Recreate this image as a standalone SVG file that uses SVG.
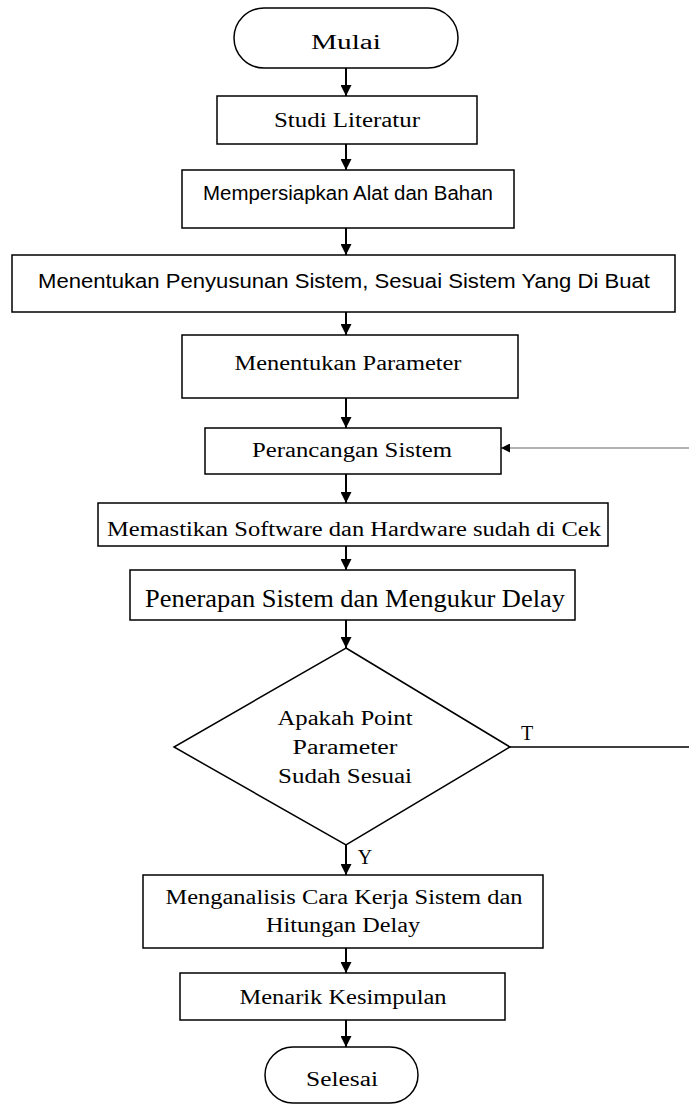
<svg xmlns="http://www.w3.org/2000/svg" width="689" height="1106" viewBox="0 0 689 1106">
<defs>
<style>
.box{fill:#fff;stroke:#000;stroke-width:1.5}
.ser{font-family:"Liberation Serif","Times New Roman",serif;font-size:20px;fill:#000;text-anchor:middle}
.san{font-family:"Liberation Sans",Arial,sans-serif;font-size:20px;fill:#000;text-anchor:middle}
.ln{stroke:#000;stroke-width:2;fill:none}
</style>
<marker id="ah" viewBox="0 0 10 10" refX="10" refY="5" markerWidth="5.5" markerHeight="5.5" orient="auto" markerUnits="strokeWidth">
<path d="M0,0 L10,5 L0,10 z" fill="#000"/>
</marker>
<marker id="ahg" viewBox="0 0 10 10" refX="10" refY="5" markerWidth="6" markerHeight="6" orient="auto" markerUnits="strokeWidth">
<path d="M0,0 L10,5 L0,10 z" fill="#000"/>
</marker>
</defs>
<rect width="689" height="1106" fill="#fff"/>
<g id="connectors">
<path class="ln" d="M346,68 V96" marker-end="url(#ah)"/>
<path class="ln" d="M346,144 V170" marker-end="url(#ah)"/>
<path class="ln" d="M346,228 V255" marker-end="url(#ah)"/>
<path class="ln" d="M346,312 V335" marker-end="url(#ah)"/>
<path class="ln" d="M346,398 V428" marker-end="url(#ah)"/>
<path class="ln" d="M346,474 V503" marker-end="url(#ah)"/>
<path class="ln" d="M346,546 V570" marker-end="url(#ah)"/>
<path class="ln" d="M346,620 V648" marker-end="url(#ah)"/>
<path class="ln" d="M346,845 V875" marker-end="url(#ah)"/>
<path class="ln" d="M346,948 V973" marker-end="url(#ah)"/>
<path class="ln" d="M346,1020 V1047" marker-end="url(#ah)"/>
<path d="M510,747 H689" stroke="#000" stroke-width="1.5" fill="none"/>
<path d="M689,448 H501" stroke="#999" stroke-width="1.5" fill="none" marker-end="url(#ahg)"/>
<text class="ser" x="527" y="740">T</text>
<text class="ser" x="365" y="864">Y</text>
</g>
<g id="mulai">
<rect class="box" x="234" y="8" width="224" height="60" rx="30" ry="30"/>
<text class="ser" x="346" y="49" textLength="70" lengthAdjust="spacingAndGlyphs">Mulai</text>
</g>
<g id="studi">
<rect class="box" x="217" y="96" width="260" height="48"/>
<text class="ser" x="347" y="127" textLength="146" lengthAdjust="spacingAndGlyphs">Studi Literatur</text>
</g>
<g id="persiapan">
<rect class="box" x="182" y="170" width="332" height="58"/>
<text class="san" x="348" y="200" textLength="290" lengthAdjust="spacingAndGlyphs">Mempersiapkan Alat dan Bahan</text>
</g>
<g id="penyusunan">
<rect class="box" x="12" y="255" width="663" height="57"/>
<text class="san" x="344" y="288" textLength="612" lengthAdjust="spacingAndGlyphs">Menentukan Penyusunan Sistem, Sesuai Sistem Yang  Di Buat</text>
</g>
<g id="parameter">
<rect class="box" x="182" y="335" width="336" height="63"/>
<text class="ser" x="348" y="370" textLength="227" lengthAdjust="spacingAndGlyphs">Menentukan Parameter</text>
</g>
<g id="perancangan">
<rect class="box" x="205" y="428" width="296" height="46"/>
<text class="ser" x="352" y="457" textLength="200" lengthAdjust="spacingAndGlyphs">Perancangan Sistem</text>
</g>
<g id="memastikan">
<rect class="box" x="98" y="503" width="510" height="43"/>
<text class="ser" x="354" y="536" textLength="494" lengthAdjust="spacingAndGlyphs">Memastikan Software dan Hardware sudah di Cek</text>
</g>
<g id="penerapan">
<rect class="box" x="130" y="570" width="445" height="50"/>
<text class="ser" x="355" y="607" style="font-size:25px" textLength="420" lengthAdjust="spacingAndGlyphs">Penerapan Sistem dan Mengukur Delay</text>
</g>
<g id="keputusan">
<polygon class="box" points="346,648 510,747 346,845 174,747"/>
<text class="ser" x="345" y="725" textLength="135" lengthAdjust="spacingAndGlyphs">Apakah Point</text>
<text class="ser" x="345" y="754" textLength="105" lengthAdjust="spacingAndGlyphs">Parameter</text>
<text class="ser" x="345" y="783" textLength="134" lengthAdjust="spacingAndGlyphs">Sudah Sesuai</text>
</g>
<g id="menganalisis">
<rect class="box" x="143" y="875" width="400" height="73"/>
<text class="ser" x="344" y="904" textLength="357" lengthAdjust="spacingAndGlyphs">Menganalisis Cara Kerja Sistem dan</text>
<text class="ser" x="343" y="932" textLength="154" lengthAdjust="spacingAndGlyphs">Hitungan Delay</text>
</g>
<g id="kesimpulan">
<rect class="box" x="180" y="973" width="325" height="47"/>
<text class="ser" x="343" y="1004" textLength="207" lengthAdjust="spacingAndGlyphs">Menarik Kesimpulan</text>
</g>
<g id="selesai">
<rect class="box" x="265" y="1047" width="153" height="56" rx="28" ry="28"/>
<text class="ser" x="342" y="1086" textLength="72" lengthAdjust="spacingAndGlyphs">Selesai</text>
</g>
</svg>
